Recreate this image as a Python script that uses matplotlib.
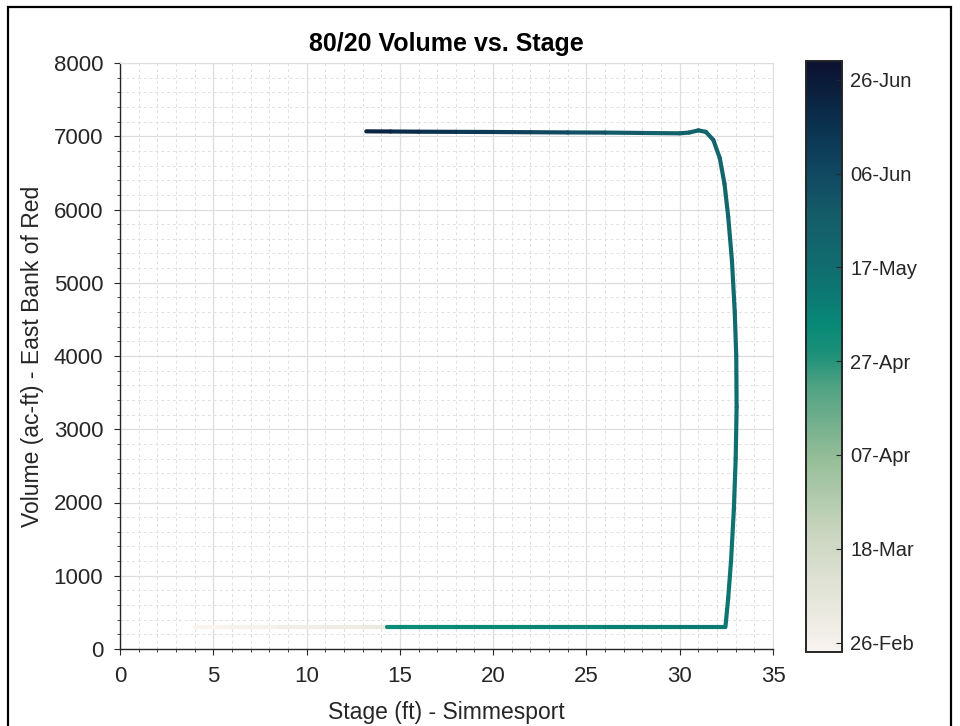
import numpy as np
import matplotlib
matplotlib.use("Agg")
import matplotlib.pyplot as plt
import matplotlib.dates as mdates
from matplotlib.collections import LineCollection
from matplotlib.colors import LinearSegmentedColormap, Normalize
from matplotlib.patches import Rectangle
from matplotlib.ticker import MultipleLocator

plt.rcParams['font.family'] = ['Liberation Sans', 'DejaVu Sans']

# path of the volume/stage relation
stage = [4.0, 6.0, 8.5, 11.0, 13.0, 14.3,
         14.3, 18.0, 22.0, 26.0, 30.0, 32.45,
         32.6, 32.75, 32.9, 33.0, 33.05, 33.03, 32.95, 32.8, 32.6, 32.4, 32.15, 31.8,
         31.4, 31.0, 30.5, 30.0, 28.0, 26.0, 24.0, 22.0, 20.0, 18.0, 16.0, 14.5, 13.2]
volume = [300, 300, 300, 300, 300, 300,
          300, 300, 300, 300, 300, 300,
          700, 1200, 1900, 2600, 3300, 4000, 4600, 5300, 5900, 6350, 6700, 6950,
          7060, 7080, 7050, 7040, 7045, 7050, 7052, 7055, 7058, 7060, 7062, 7065, 7067]
dates = ['2021-02-24', '2021-02-26', '2021-02-28', '2021-03-02', '2021-03-04', '2021-03-06',
         '2021-05-03', '2021-05-04', '2021-05-06', '2021-05-08', '2021-05-10', '2021-05-12',
         '2021-05-13', '2021-05-14', '2021-05-15', '2021-05-16', '2021-05-17', '2021-05-18',
         '2021-05-19', '2021-05-20', '2021-05-21', '2021-05-22', '2021-05-22', '2021-05-23',
         '2021-05-23', '2021-05-24', '2021-05-24', '2021-05-25', '2021-05-29', '2021-06-02',
         '2021-06-06', '2021-06-10', '2021-06-13', '2021-06-16', '2021-06-19', '2021-06-22',
         '2021-06-25']
date_lims = ['2021-02-24', '2021-06-30']
cbar_ticks = ['2021-02-26', '2021-03-18', '2021-04-07', '2021-04-27',
              '2021-05-17', '2021-06-06', '2021-06-26']

# tempo-like colormap
cmap = LinearSegmentedColormap.from_list('tempo', [
    (0.00, '#f8f3ef'), (0.10, '#e3e4d8'), (0.20, '#cad6bf'), (0.33, '#93bd97'),
    (0.45, '#4fa283'), (0.50, '#1f9179'), (0.55, '#088a77'), (0.60, '#0b7a73'),
    (0.66, '#116b6e'), (0.75, '#145a68'), (0.82, '#0f4660'), (0.90, '#0a2f4d'),
    (0.97, '#0b1a38'), (1.00, '#0d1230')])

dnum = mdates.datestr2num(dates)
norm = Normalize(vmin=mdates.datestr2num(date_lims[0]), vmax=mdates.datestr2num(date_lims[1]))

pts = np.column_stack([stage, volume])
segs = np.stack([pts[:-1], pts[1:]], axis=1)

fig = plt.figure(figsize=(9.6, 7.26), dpi=100)
ax = fig.add_axes([120/960, 1-649/726, 653/960, 586/726])

lc = LineCollection(segs, cmap=cmap, norm=norm, linewidths=3.0, capstyle='round', joinstyle='round', zorder=3)
lc.set_array(dnum[:-1])
ax.add_collection(lc)

ax.set_xlim(0, 35)
ax.set_ylim(0, 8000)
ax.xaxis.set_major_locator(MultipleLocator(5))
ax.xaxis.set_minor_locator(MultipleLocator(1))
ax.yaxis.set_major_locator(MultipleLocator(1000))
ax.yaxis.set_minor_locator(MultipleLocator(200))
ax.grid(which='major', color='#dedede', lw=0.9)
ax.grid(which='minor', color='#e0e0e0', lw=0.7, ls=(0, (3, 3)))
ax.set_axisbelow(True)

txt = '#262626'
for s in ['top', 'right']:
    ax.spines[s].set_color('#dedede')
for s in ['left', 'bottom']:
    ax.spines[s].set_color(txt)
    ax.spines[s].set_linewidth(1.0)
ax.tick_params(which='both', direction='out', colors=txt, labelsize=16, top=False, right=False)
ax.tick_params(which='major', length=4, pad=8)
ax.tick_params(which='minor', length=2.5)

ax.set_title('80/20 Volume vs. Stage', fontsize=18, fontweight='bold', color='black', pad=9)
ax.set_xlabel('Stage (ft) - Simmesport', fontsize=16.5, color=txt, labelpad=10)
ax.set_ylabel('Volume (ac-ft) - East Bank of Red', fontsize=16.5, color=txt, labelpad=7)

cax = fig.add_axes([806/960, 1-652/726, 36/960, 591/726])
cb = fig.colorbar(lc, cax=cax)
cb.set_ticks(mdates.datestr2num(cbar_ticks))
cb.ax.yaxis.set_major_formatter(mdates.DateFormatter('%d-%b'))
cb.ax.tick_params(direction='in', length=4, labelsize=14.5, colors=txt, pad=6)
cb.outline.set_linewidth(1.4)
cb.outline.set_edgecolor(txt)

fig.patches.append(Rectangle((7.5/960, -0.1), 943/960, 1.1 - 7.5/726, transform=fig.transFigure,
                             fill=False, edgecolor='black', lw=1.6))

fig.savefig('out.png', dpi=100)
